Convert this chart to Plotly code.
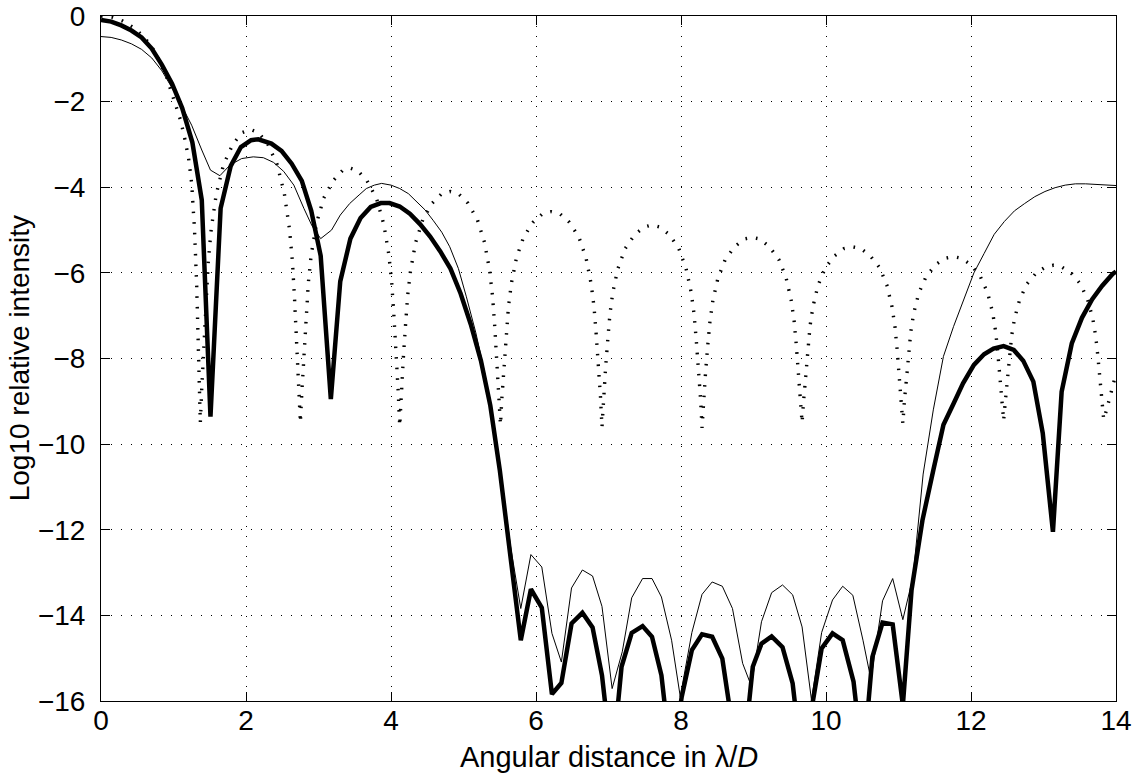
import plotly.graph_objects as go

# ---------------- data ----------------
thick_x = [0.00, 0.14, 0.28, 0.42, 0.56, 0.70, 0.84, 0.98, 1.12, 1.26, 1.39, 1.51, 1.65, 1.79, 1.93, 2.07, 2.17,
           2.35, 2.49, 2.63, 2.77, 2.90, 3.03, 3.17, 3.30, 3.44, 3.58, 3.72, 3.86, 3.98, 4.12, 4.26, 4.40, 4.54,
           4.68, 4.82, 4.96, 5.10, 5.24, 5.37, 5.50, 5.64, 5.79, 5.93, 6.08, 6.22, 6.35, 6.49, 6.64, 6.78, 6.91,
           7.05, 7.18, 7.32, 7.47, 7.60, 7.73, 7.87, 8.01, 8.15, 8.29, 8.43, 8.57, 8.71, 8.85, 8.99, 9.11, 9.25,
           9.40, 9.54, 9.67, 9.80, 9.94, 10.09, 10.23, 10.38, 10.51, 10.64, 10.78, 10.92, 11.06, 11.18, 11.33,
           11.48, 11.62, 11.76, 11.89, 12.04, 12.18, 12.31, 12.45, 12.59, 12.72, 12.86, 12.99, 13.13, 13.25,
           13.39, 13.53, 13.67, 13.81, 13.95, 14.00]
thick_y = [-0.09, -0.13, -0.22, -0.34, -0.50, -0.76, -1.14, -1.58, -2.15, -2.95, -4.30, -9.36, -4.49, -3.50,
           -3.06, -2.90, -2.88, -2.98, -3.15, -3.45, -3.85, -4.55, -5.60, -8.95, -6.20, -5.20, -4.72, -4.46,
           -4.37, -4.37, -4.45, -4.62, -4.86, -5.15, -5.50, -5.90, -6.48, -7.20, -8.05, -9.10, -10.60, -12.60,
           -14.58, -13.39, -13.82, -15.84, -15.58, -14.19, -13.94, -14.28, -15.40, -17.50, -15.20, -14.41,
           -14.25, -14.50, -15.40, -17.50, -15.90, -14.81, -14.44, -14.50, -15.01, -16.60, -17.50, -15.20,
           -14.66, -14.49, -14.74, -15.59, -17.50, -16.20, -14.77, -14.42, -14.58, -15.55, -17.50, -14.97,
           -14.17, -14.21, -16.10, -13.41, -11.78, -10.61, -9.55, -9.05, -8.58, -8.15, -7.90, -7.77, -7.71,
           -7.80, -8.05, -8.54, -9.75, -12.05, -8.78, -7.65, -7.05, -6.62, -6.30, -6.03, -5.97]

thin_x = [0.00, 0.14, 0.28, 0.42, 0.56, 0.70, 0.84, 0.98, 1.12, 1.25, 1.39, 1.51, 1.64, 1.78, 1.94, 2.10, 2.24,
          2.38, 2.52, 2.66, 2.80, 2.91, 3.03, 3.18, 3.30, 3.43, 3.56, 3.66, 3.77, 3.87, 4.00, 4.12, 4.24, 4.35,
          4.47, 4.58, 4.70, 4.81, 4.93, 5.04, 5.17, 5.30, 5.40, 5.50, 5.65, 5.79, 5.93, 6.08, 6.22, 6.35, 6.49,
          6.64, 6.78, 6.91, 7.05, 7.19, 7.32, 7.47, 7.60, 7.73, 7.87, 7.99, 8.15, 8.29, 8.43, 8.57, 8.71, 8.85,
          8.97, 9.11, 9.25, 9.40, 9.54, 9.67, 9.80, 9.94, 10.09, 10.23, 10.37, 10.51, 10.62, 10.78, 10.92,
          11.06, 11.20, 11.34, 11.48, 11.62, 11.76, 11.90, 12.04, 12.18, 12.32, 12.46, 12.60, 12.74, 12.88,
          13.02, 13.16, 13.30, 13.44, 13.58, 13.72, 13.86, 14.00]
thin_y = [-0.48, -0.50, -0.56, -0.65, -0.78, -0.98, -1.28, -1.68, -2.12, -2.55, -3.13, -3.60, -3.73, -3.48,
          -3.33, -3.29, -3.31, -3.42, -3.63, -3.95, -4.50, -4.90, -5.20, -5.00, -4.65, -4.38, -4.18, -4.03,
          -3.95, -3.91, -3.95, -4.03, -4.15, -4.34, -4.53, -4.77, -5.05, -5.39, -5.90, -6.56, -7.40, -8.40,
          -9.40, -10.50, -12.40, -13.84, -12.58, -12.87, -14.42, -15.09, -13.36, -12.94, -13.08, -13.79,
          -15.71, -14.85, -13.59, -13.14, -13.14, -13.57, -14.58, -15.90, -14.40, -13.51, -13.22, -13.32,
          -13.84, -15.12, -15.65, -14.15, -13.47, -13.29, -13.52, -14.27, -15.98, -14.40, -13.64, -13.32,
          -13.53, -14.58, -15.50, -13.66, -13.14, -14.10, -13.10, -10.70, -9.20, -7.95, -7.25, -6.60, -6.00,
          -5.55, -5.10, -4.80, -4.55, -4.38, -4.22, -4.10, -4.01, -3.95, -3.92, -3.92, -3.93, -3.95, -3.96]

dot_x = [0.00, 0.15, 0.30, 0.45, 0.60, 0.75, 0.90, 1.00, 1.10, 1.16, 1.21, 1.25, 1.29, 1.32, 1.345, 1.36, 1.37,
         1.39, 1.42, 1.45, 1.48, 1.52, 1.59, 1.69, 1.82, 1.95, 2.06, 2.17, 2.30, 2.43, 2.53, 2.60, 2.64, 2.67, 2.70, 2.73,
         2.75,
         2.77, 2.80, 2.83, 2.86, 2.90, 2.97, 3.07, 3.20, 3.33, 3.435, 3.54, 3.67, 3.80, 3.90, 3.97, 4.01, 4.04, 4.07, 4.10,
         4.12,
         4.14, 4.17, 4.20, 4.23, 4.27, 4.34, 4.44, 4.57, 4.70, 4.815, 4.93, 5.06, 5.19, 5.29, 5.36, 5.40, 5.43, 5.46, 5.49,
         5.51,
         5.53, 5.56, 5.59, 5.62, 5.66, 5.73, 5.83, 5.96, 6.09, 6.21, 6.33, 6.46, 6.59, 6.69, 6.76, 6.80, 6.83, 6.86, 6.89,
         6.91,
         6.93, 6.96, 6.99, 7.02, 7.06, 7.13, 7.23, 7.36, 7.49, 7.60, 7.71, 7.84, 7.97, 8.07, 8.14, 8.18, 8.21, 8.24, 8.27,
         8.29,
         8.31, 8.34, 8.37, 8.40, 8.44, 8.51, 8.61, 8.74, 8.87, 8.98, 9.09, 9.22, 9.35, 9.45, 9.52, 9.56, 9.59, 9.62, 9.65,
         9.67,
         9.69, 9.72, 9.75, 9.78, 9.82, 9.89, 9.99, 10.12, 10.25, 10.365, 10.48, 10.61, 10.74, 10.84, 10.91, 10.95, 10.98,
         11.01, 11.04,
         11.06,
         11.08, 11.11, 11.14, 11.17, 11.21, 11.28, 11.38, 11.51, 11.64, 11.755, 11.87, 12.00, 12.13, 12.23, 12.30, 12.34,
         12.37, 12.40, 12.43,
         12.45,
         12.47, 12.50, 12.53, 12.56, 12.60, 12.67, 12.77, 12.90, 13.03, 13.14, 13.25, 13.38, 13.51, 13.61, 13.68, 13.72,
         13.75, 13.78, 13.81,
         13.83, 13.87, 13.91, 13.95, 14.00]
dot_y = [0.00, -0.03, -0.12, -0.27, -0.50, -0.85, -1.40, -1.95, -2.45, -2.90, -3.35, -3.90, -5.00, -6.30, -7.60,
         -8.60, -9.50,
         -8.68, -7.58, -6.62, -5.73, -4.98, -4.16, -3.47, -2.99, -2.72, -2.65, -2.72, -2.99, -3.47, -4.16, -4.98,
         -5.73, -6.62, -7.58, -8.68,
         -9.50,
         -8.79, -7.83, -7.00, -6.23, -5.57, -4.86, -4.26, -3.85, -3.61, -3.55, -3.61, -3.85, -4.26, -4.86, -5.57,
         -6.23, -7.00, -7.83, -8.79,
         -9.58,
         -8.85, -7.99, -7.23, -6.53, -5.94, -5.29, -4.75, -4.37, -4.15, -4.10, -4.15, -4.37, -4.75, -5.29, -5.94,
         -6.53, -7.23, -7.99, -8.85,
         -9.55,
         -8.91, -8.12, -7.43, -6.79, -6.25, -5.65, -5.16, -4.82, -4.62, -4.57, -4.62, -4.82, -5.16, -5.65, -6.25,
         -6.79, -7.43, -8.12, -8.91,
         -9.60,
         -8.95, -8.21, -7.56, -6.96, -6.45, -5.90, -5.43, -5.11, -4.93, -4.88, -4.93, -5.11, -5.43, -5.90, -6.45,
         -6.96, -7.56, -8.21, -8.95,
         -9.62,
         -8.98, -8.29, -7.68, -7.12, -6.64, -6.12, -5.69, -5.39, -5.21, -5.17, -5.21, -5.39, -5.69, -6.12, -6.64,
         -7.12, -7.68, -8.29, -8.98,
         -9.50,
         -9.01, -8.35, -7.77, -7.24, -6.79, -6.29, -5.88, -5.60, -5.43, -5.39, -5.43, -5.60, -5.88, -6.29, -6.79,
         -7.24, -7.77, -8.35, -9.01,
         -9.52,
         -9.03, -8.41, -7.87, -7.37, -6.94, -6.47, -6.09, -5.81, -5.66, -5.62, -5.66, -5.81, -6.09, -6.47, -6.94,
         -7.37, -7.87, -8.41, -9.03,
         -9.45,
         -9.06, -8.47, -7.95, -7.48, -7.07, -6.63, -6.26, -6.00, -5.86, -5.82, -5.86, -6.00, -6.26, -6.63, -7.07,
         -7.48, -7.95, -8.47, -9.06,
         -9.42, -9.20, -8.95, -8.70, -8.35]

x_ticks = [0, 2, 4, 6, 8, 10, 12, 14]
y_ticks = [0, -2, -4, -6, -8, -10, -12, -14, -16]
x_title = "Angular distance in λ/<i>D</i>"
y_title = "Log10 relative intensity"

# ---------------- figure ----------------
FONT = "Liberation Sans, Arial, Helvetica, sans-serif"
FS = 28

fig = go.Figure()
fig.add_trace(go.Scatter(x=dot_x, y=dot_y, mode="lines",
                         line=dict(color="black", width=3.4, dash="1.6px,9px"), hoverinfo="skip"))
fig.add_trace(go.Scatter(x=thin_x, y=thin_y, mode="lines",
                         line=dict(color="black", width=1), hoverinfo="skip"))
fig.add_trace(go.Scatter(x=thick_x, y=thick_y, mode="lines",
                         line=dict(color="black", width=4.5), hoverinfo="skip"))

axis_common = dict(
    showline=True, linecolor="black", linewidth=1, mirror="ticks",
    ticks="inside", ticklen=9, tickwidth=1, tickcolor="black",
    showgrid=True, gridcolor="black", gridwidth=1, griddash="1px,9px",
    zeroline=False, automargin=False,
    tickfont=dict(family=FONT, size=FS, color="black"),
)

fig.update_xaxes(range=[0, 14], tickvals=x_ticks, ticklabelstandoff=-6, **axis_common)
fig.update_yaxes(range=[-16, 0], tickvals=y_ticks, ticklabelstandoff=9, **axis_common)

# axis titles placed as paper annotations (pixel positions)
fig.add_annotation(text=x_title, xref="paper", yref="paper", x=0.5, y=-0.082,
                   xanchor="center", yanchor="middle", showarrow=False,
                   font=dict(family=FONT, size=29, color="black"))
fig.add_annotation(text=y_title, xref="paper", yref="paper", x=-0.080, y=0.5,
                   xanchor="center", yanchor="middle", textangle=-90, showarrow=False,
                   font=dict(family=FONT, size=FS, color="black"))

fig.update_layout(
    width=1147, height=776,
    margin=dict(l=101, r=31, t=16, b=75),
    paper_bgcolor="white", plot_bgcolor="white",
    showlegend=False,
    font=dict(family=FONT, color="black"),
)

assert len(thick_x) == len(thick_y)
assert len(thin_x) == len(thin_y)
assert len(dot_x) == len(dot_y)

# remove the default 8px page margin so the figure sits at the top-left of the window
fig.write_html("out.html",
               config={"displayModeBar": False},
               post_script="document.body.style.margin='0px';document.body.style.overflow='hidden';")
